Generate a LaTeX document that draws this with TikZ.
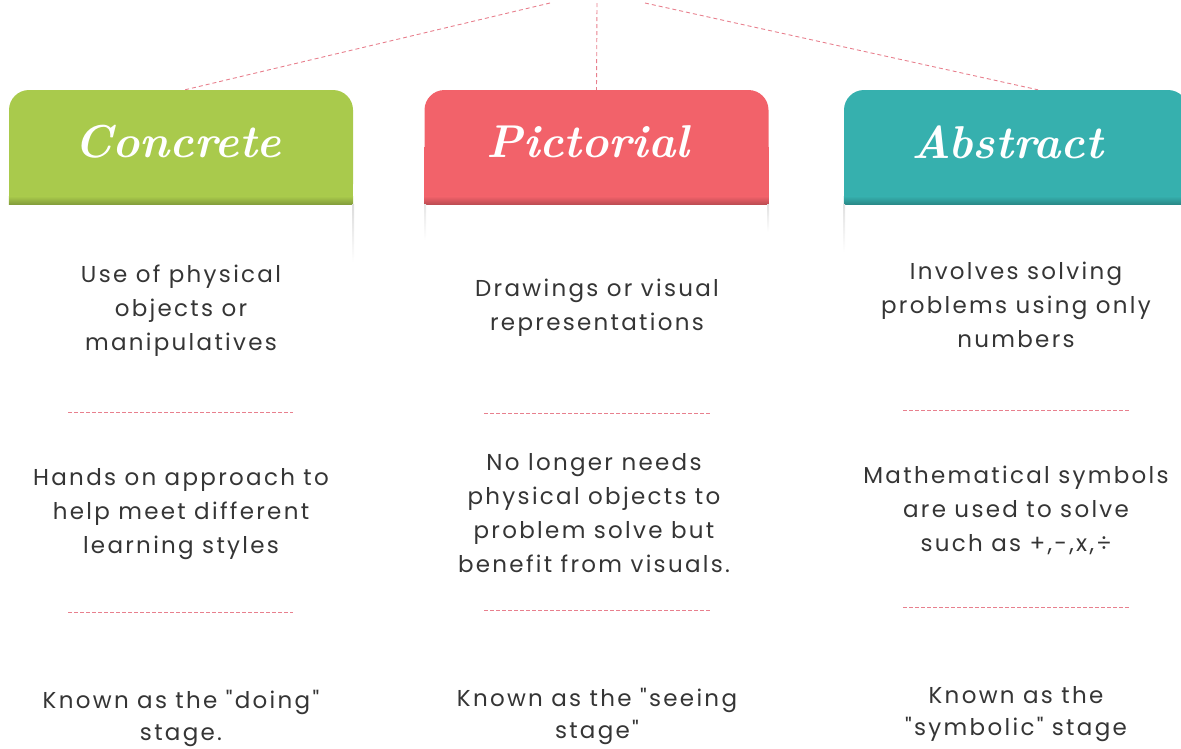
\documentclass[tikz,border=0pt]{standalone}
\usepackage{fontspec}
\newfontfamily\bodyfont[LetterSpace=10]{Poppins}
\usetikzlibrary{calc}
\definecolor{ink}{HTML}{353535}
\definecolor{green}{HTML}{A9CA4C}
\definecolor{coral}{HTML}{F2626A}
\definecolor{teal}{HTML}{36B0AE}
\definecolor{dash}{HTML}{E8808E}
\begin{document}
\begin{tikzpicture}[x=1pt,y=-1pt,
  tab/.style={rectangle, rounded corners=20pt, minimum width=344pt,
    minimum height=114pt, inner sep=0pt},
  title/.style={text=white, font=\fontsize{46}{46}\selectfont\bfseries\itshape},
  body/.style={align=center, inner sep=0pt, text=ink,
    font=\bodyfont\fontsize{23}{34}\selectfont},
  foot/.style={body, font=\bodyfont\fontsize{23}{32}\selectfont},
  sep/.style={draw=dash, line width=0.9pt, dash pattern=on 3.5pt off 2.5pt},
  link/.style={draw=dash, line width=0.9pt, dash pattern=on 4pt off 3pt}]
\useasboundingbox (0,0) rectangle (1181,748);

% header tabs: rounded top, square bottom, shaded lower band
\foreach \nm/\cx/\col in {ctab/181/green, ptab/596.5/coral, atab/1016/teal}{
  \node[tab, fill=\col] (\nm) at (\cx,147) {};
  \fill[\col] (\nm.west) rectangle (\nm.south east);
  \shade[top color=\col, bottom color=\col!78!black]
    ($(\nm.south west)+(0,-8)$) rectangle (\nm.south east);
}

% faint card edges under the tabs
\shade[top color=black!14, bottom color=white] (352,204) rectangle (354,262);
\shade[top color=black!10, bottom color=white] (424,204) rectangle (426,240);
\shade[top color=black!12, bottom color=white] (767,204) rectangle (769,232);
\shade[top color=black!12, bottom color=white] (843,204) rectangle (845,252);

% tab titles
\node[title] (tconc) at (178,142) {Concrete};
\node[title] (tpict) at (588,142) {Pictorial};
\node[title] (tabst) at (1007,142) {Abstract};

% dashed links from the top
\coordinate (topL) at (550,3);
\coordinate (topM) at (597,3);
\coordinate (topR) at (645,3);
\draw[link] (topL) -- ([xshift=4pt]ctab.north);
\draw[link] (topM) -- (ptab.north);
\draw[link] (topR) -- ([xshift=22pt]atab.north);

% Concrete column
\node[body] (c1) at (181,311) {Use of physical\\objects or\\manipulatives};
\draw[sep] (68,412) -- (293,412);
\node[body] (c2) at (181,514) {Hands on approach to\\help meet different\\learning styles};
\draw[sep] (68,612) -- (293,612);
\node[foot] (c3) at (181,718) {Known as the "doing"\\stage.};

% Pictorial column
\node[body] (p1) at (597,308) {Drawings or visual\\representations};
\draw[sep] (484,413) -- (710,413);
\node[body] (p2) at (594,513) {No longer needs\\physical objects to\\problem solve but\\benefit from visuals.};
\draw[sep] (484,610) -- (710,610);
\node[foot] (p3) at (597,716) {Known as the "seeing\\stage"};

% Abstract column
\node[body] (a1) at (1016,305) {Involves solving\\problems using only\\numbers};
\draw[sep] (903,410) -- (1129,410);
\node[body] (a2) at (1016,510) {Mathematical symbols\\are used to solve\\such as +,-,x,÷};
\draw[sep] (903,607) -- (1129,607);
\node[foot] (a3) at (1016,714) {Known as the\\"symbolic" stage};
\end{tikzpicture}
\end{document}
